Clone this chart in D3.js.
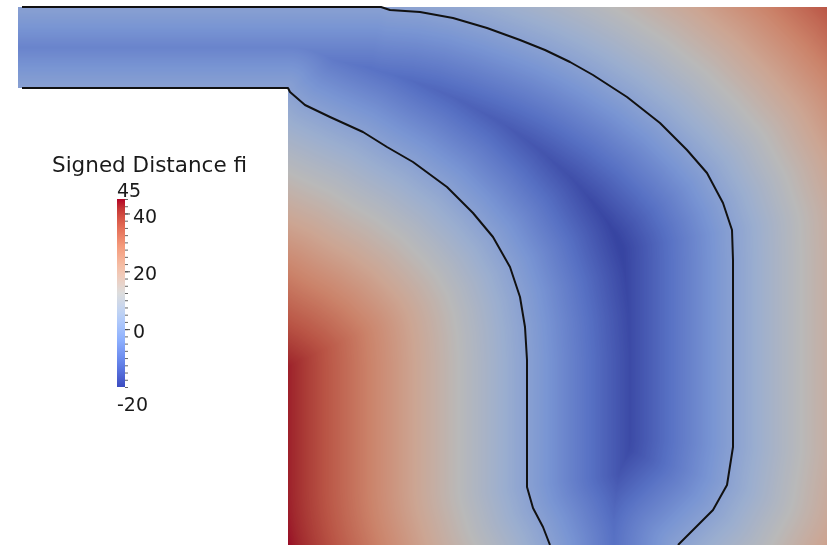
<!DOCTYPE html>
<html>
<head>
<meta charset="utf-8">
<script src="https://cdn.jsdelivr.net/npm/d3@7"></script>
<style>
  html, body { margin: 0; padding: 0; background: #ffffff; }
  #wrap { position: relative; width: 829px; height: 545px; overflow: hidden; }
  #wrap canvas, #wrap svg { position: absolute; left: 0; top: 0; }
</style>
</head>
<body>
<div id="wrap"></div>
<script>
// ---------------- DATA ----------------
// Zero-level contour of the signed distance field (model coordinates)
const outerContour = [[4,0],[363,0],[372,3],[402,5],[435,11],[469,21],[502,33],[527,43],[552,55],[575,68],[609,90],[642,116],[669,143],[689,166],[705,196],[714,223],[715,253],[715,440],[709,478],[695,503],[675,523],[660,538]];
const innerContour = [[4,81],[270,81],[272,85],[287,98],[312,110],[345,125],[369,140],[395,155],[429,180],[455,206],[475,230],[492,260],[502,290],[507,320],[509,353],[509,480],[515,501],[525,520],[532,538]];
// Mesh extent (model coordinates): top strip + lower block
const meshStrip = [[0,0],[809,81]];
const meshBlock = [[270,81],[809,538]];
const modelUnitsPerValue = 5.45;

// Colour map (Cool to Warm) and legend
const valueRange = [-20, 45];
const cmapPositions = [0, 0.125, 0.25, 0.375, 0.5, 0.625, 0.75, 0.875, 1];
const cmapColors = ["#3b4cc0","#6282ea","#8db0fe","#b8d0f9","#dddddd","#f5c4ad","#f49a7b","#de604d","#b40426"];
const legendTitle = "Signed Distance fi";
const majorTicks = [40, 20, 0];
const endLabels = [45, -20];
const minorTicks = d3.range(-20, 45.01, 2.5);

// ---------------- SCALES ----------------
const W = 829, H = 545;
const x = d3.scaleLinear().domain([0, 809]).range([18, 827]);
const y = d3.scaleLinear().domain([0, 538]).range([7, 545]);
const color = d3.scaleLinear()
  .domain(cmapPositions.map(t => valueRange[0] + t * (valueRange[1] - valueRange[0])))
  .range(cmapColors)
  .interpolate(d3.interpolateLab)
  .clamp(true);

const LUT_N = 512;
const lut = d3.range(LUT_N).map(i => {
  const v = valueRange[0] + (i / (LUT_N - 1)) * (valueRange[1] - valueRange[0]);
  const c = d3.rgb(color(v));
  return [c.r * 0.8 + 8, c.g * 0.8 + 8, c.b * 0.8 + 8];
});

// ---------------- FIELD ----------------
const wrap = d3.select("#wrap");
const canvas = wrap.append("canvas").attr("width", W).attr("height", H).node();
const ctx = canvas.getContext("2d");
ctx.fillStyle = "#ffffff"; ctx.fillRect(0, 0, W, H);
const img = ctx.getImageData(0, 0, W, H);

const segs = [];
[outerContour, innerContour].forEach(c => {
  for (let i = 0; i < c.length - 1; i++) segs.push([c[i][0], c[i][1], c[i+1][0], c[i+1][1]]);
});
const insidePoly = [[0,0], ...outerContour, ...innerContour.slice().reverse(), [0,81]];

function segDist2(px, py, s) {
  const dx = s[2] - s[0], dy = s[3] - s[1];
  const l2 = dx*dx + dy*dy;
  let t = l2 > 0 ? ((px - s[0]) * dx + (py - s[1]) * dy) / l2 : 0;
  t = Math.max(0, Math.min(1, t));
  const ex = s[0] + t*dx - px, ey = s[1] + t*dy - py;
  return ex*ex + ey*ey;
}
function inMesh(mx, my) {
  const a = meshStrip, b = meshBlock;
  return (mx >= a[0][0] && mx <= a[1][0] && my >= a[0][1] && my <= a[1][1]) ||
         (mx >= b[0][0] && mx <= b[1][0] && my >= b[0][1] && my <= b[1][1]);
}
for (let py = 0; py < H; py++) {
  const my = y.invert(py + 0.5);
  for (let px = 0; px < W; px++) {
    const mx = x.invert(px + 0.5);
    if (!inMesh(mx, my)) continue;
    let d2 = Infinity;
    for (const s of segs) { const q = segDist2(mx, my, s); if (q < d2) d2 = q; }
    let v = Math.sqrt(d2) / modelUnitsPerValue;
    if (d3.polygonContains(insidePoly, [mx, my])) v = -v;
    const t = Math.max(0, Math.min(1, (v - valueRange[0]) / (valueRange[1] - valueRange[0])));
    const c = lut[Math.round(t * (LUT_N - 1))];
    const k = (py * W + px) * 4;
    img.data[k] = c[0]; img.data[k+1] = c[1]; img.data[k+2] = c[2]; img.data[k+3] = 255;
  }
}
ctx.putImageData(img, 0, 0);

// ---------------- CONTOUR LINES ----------------
const svg = wrap.append("svg").attr("width", W).attr("height", H);
const line = d3.line().x(d => x(d[0])).y(d => y(d[1]));
svg.selectAll("path.contour").data([outerContour, innerContour]).join("path")
  .attr("class", "contour")
  .attr("d", line)
  .attr("fill", "none")
  .attr("stroke", "#111111")
  .attr("stroke-width", 2)
  .attr("stroke-linejoin", "round");

// ---------------- LEGEND ----------------
const legendScale = d3.scaleLinear().domain(valueRange).range([387, 199]);
const barX = 117, barW = 8;
const defs = svg.append("defs");
const grad = defs.append("linearGradient").attr("id", "cbar")
  .attr("x1", 0).attr("y1", 1).attr("x2", 0).attr("y2", 0);
grad.selectAll("stop").data(d3.range(0, 1.0001, 0.05)).join("stop")
  .attr("offset", d => d)
  .attr("stop-color", d => color(valueRange[0] + d * (valueRange[1] - valueRange[0])));
svg.append("rect")
  .attr("x", barX).attr("y", legendScale(valueRange[1]))
  .attr("width", barW).attr("height", legendScale(valueRange[0]) - legendScale(valueRange[1]))
  .attr("fill", "url(#cbar)");

const minorAxis = d3.axisRight(legendScale).tickValues(minorTicks).tickSize(3).tickFormat("");
svg.append("g").attr("transform", `translate(${barX + barW},0)`).call(minorAxis)
  .call(g => g.select(".domain").remove())
  .call(g => g.selectAll("line").attr("stroke", "#666").attr("stroke-width", 1));

const majorAxis = d3.axisRight(legendScale).tickValues(majorTicks).tickSize(5).tickPadding(3);
svg.append("g").attr("transform", `translate(${barX + barW},0)`).call(majorAxis)
  .call(g => g.select(".domain").remove())
  .call(g => g.selectAll("line").attr("stroke", "#444"))
  .call(g => g.selectAll("text")
    .attr("font-family", "DejaVu Sans, sans-serif")
    .attr("font-size", 19)
    .attr("fill", "#1a1a1a")
    .attr("dy", "0.45em"));

svg.selectAll("text.endlabel").data(endLabels).join("text")
  .attr("class", "endlabel")
  .attr("x", barX)
  .attr("y", d => d === valueRange[1] ? legendScale(d) - 2 : legendScale(d) + 24)
  .attr("font-family", "DejaVu Sans, sans-serif")
  .attr("font-size", 19)
  .attr("fill", "#1a1a1a")
  .text(d => d);

svg.append("text")
  .attr("x", 52).attr("y", 172)
  .attr("font-family", "DejaVu Sans, sans-serif")
  .attr("font-size", 21.5)
  .attr("fill", "#1a1a1a")
  .text(legendTitle);
</script>
</body>
</html>
